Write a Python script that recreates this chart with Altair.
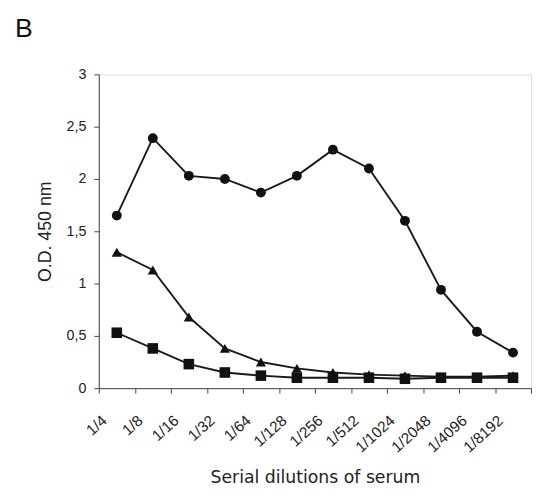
import altair as alt
import pandas as pd

dilutions = ["1/4", "1/8", "1/16", "1/32", "1/64", "1/128", "1/256",
             "1/512", "1/1024", "1/2048", "1/4096", "1/8192"]
circles = [1.65, 2.39, 2.03, 2.00, 1.87, 2.03, 2.28, 2.10, 1.60, 0.94, 0.54, 0.34]
triangles = [1.30, 1.13, 0.68, 0.38, 0.25, 0.19, 0.15, 0.13, 0.12, 0.11, 0.11, 0.12]
squares = [0.53, 0.38, 0.23, 0.15, 0.12, 0.10, 0.10, 0.10, 0.09, 0.10, 0.10, 0.10]

series = [("circle", circles), ("triangle-up", triangles), ("square", squares)]
rows = []
for name, vals in series:
    for d, v in zip(dilutions, vals):
        rows.append({"dilution": d, "od": v, "series": name})
df = pd.DataFrame(rows)

x = alt.X(
    "dilution:O",
    sort=dilutions,
    scale=alt.Scale(type="band", paddingInner=0, paddingOuter=0),
    axis=alt.Axis(
        title="Serial dilutions of serum",
        bandPosition=0,
        tickBand="extent",
        labelAngle=318,
        labelAlign="right",
        labelBaseline="middle",
        labelPadding=25,
        labelOffset=-13,
        labelFont="Liberation Sans",
        labelFontSize=15.5,
        labelColor="#222222",
        tickSize=5,
        tickColor="#444444",
        domainColor="#444444",
        titleFont="DejaVu Sans",
        titleFontSize=17.5,
        titleFontWeight="normal",
        titleColor="#222222",
        titlePadding=14,
    ),
)
y = alt.Y(
    "od:Q",
    scale=alt.Scale(domain=[0, 3], nice=False),
    axis=alt.Axis(
        title="O.D. 450 nm",
        values=[0, 0.5, 1, 1.5, 2, 2.5, 3],
        labelExpr="replace(toString(datum.value), '.', ',')",
        grid=False,
        tickSize=5,
        labelPadding=8,
        labelFont="Liberation Sans",
        labelFontSize=14.5,
        labelColor="#222222",
        tickColor="#444444",
        domainColor="#444444",
        titleFont="Liberation Sans",
        titleFontSize=18,
        titleFontWeight="normal",
        titleColor="#222222",
        titlePadding=12,
    ),
)

base = alt.Chart(df)
lines = base.mark_line(color="#1a1a1a", strokeWidth=1.9).encode(
    x=x, y=y, detail="series:N"
)
points = base.mark_point(filled=True, color="#111111", opacity=1).encode(
    x=x,
    y=y,
    shape=alt.Shape(
        "series:N",
        scale=alt.Scale(domain=["circle", "triangle-up", "square"],
                        range=["circle", "triangle-up", "square"]),
        legend=None,
    ),
    size=alt.Size(
        "series:N",
        scale=alt.Scale(domain=["circle", "triangle-up", "square"],
                        range=[100, 115, 105]),
        legend=None,
    ),
)

chart = (
    alt.layer(lines, points)
    .properties(
        width=438,
        height=318,
        padding={"left": 92, "top": 64, "right": 2, "bottom": 106},
        autosize=alt.AutoSizeParams(type="none"),
        title=alt.Title(
            "B",
            anchor="start",
            frame="group",
            dx=-85,
            offset=24,
            font="Liberation Sans",
            fontSize=27,
            fontWeight="normal",
            color="#111111",
        ),
    )
    .configure_view(stroke="#999999", strokeWidth=1.2)
    .configure(background="white")
)

chart.save("out.html", embed_options={"renderer": "svg", "actions": False})
